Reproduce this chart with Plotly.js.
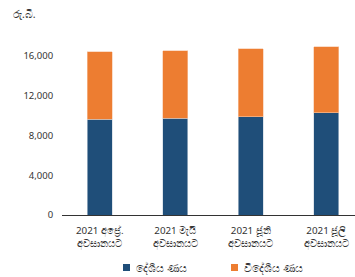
<!DOCTYPE html>
<html><head><meta charset="utf-8">
<script src="https://cdn.plot.ly/plotly-3.0.1.min.js"></script>
<style>body{margin:0}#c{width:355px;height:277px}</style>
</head><body><div id="c"></div>
<script>
const categories = ["2021 අප්‍රේ.<br>අවසානයට", "2021 මැයි<br>අවසානයට", "2021 ජූනි<br>අවසානයට", "2021 ජූලි<br>අවසානයට"];
const domesticDebt = [9650, 9750, 9900, 10300];
const foreignDebt = [6750, 6750, 6800, 6600];
const seriesNames = ["දේශීය ණය", "විදේශීය ණය"];
const seriesColors = ["#1F4E79", "#ED7D31"];
const yTicks = [0, 4000, 8000, 12000, 16000];
const yTickText = ["0", "4,000", "8,000", "12,000", "16,000"];
const idx = categories.map((_, i) => i);

const font = {family: "Noto Sans, DejaVu Sans, sans-serif", size: 9.5, color: "#333"};
const data = [
  {type: "bar", x: idx, y: domesticDebt, name: seriesNames[0], marker: {color: seriesColors[0], line: {color: "#c9d3de", width: 0.6}}, width: 0.33},
  {type: "bar", x: idx, y: foreignDebt, name: seriesNames[1], marker: {color: seriesColors[1], line: {color: "#f6c7a6", width: 0.6}}, width: 0.33}
];
// manual legend (small square markers)
const legX = [123, 231];
const shapes = legX.map((x, i) => ({type: "rect", xref: "paper", yref: "paper",
  x0: (x - 62) / 293, x1: (x + 7 - 62) / 293, y0: (215 - 271) / 179, y1: (215 - 264) / 179,
  fillcolor: seriesColors[i], line: {width: 0}}));
const legAnn = legX.map((x, i) => ({text: seriesNames[i], xref: "paper", yref: "paper",
  x: (x + 10.5 - 62) / 293, y: (215 - 267.5) / 179, xanchor: "left", yanchor: "middle", showarrow: false, font: {size: 10.5}}));

const layout = {
  width: 355, height: 277, barmode: "stack",
  margin: {l: 62, r: 0, t: 36, b: 62},
  paper_bgcolor: "#fff", plot_bgcolor: "#fff",
  font: font,
  showlegend: false,
  xaxis: {range: [-0.5, 3.38], tickvals: idx, ticktext: categories, showline: true, linecolor: "#333", linewidth: 1, ticks: "outside", ticklen: 6, tickcolor: "rgba(0,0,0,0)", showgrid: false, zeroline: false, tickfont: {size: 9.8}, automargin: false},
  yaxis: {range: [0, 18000], tickvals: yTicks, ticktext: yTickText, showgrid: false, zeroline: false, showline: false, ticks: "outside", ticklen: 6, tickcolor: "rgba(0,0,0,0)", tickfont: {size: 9.5}, automargin: false},
  shapes: shapes,
  annotations: [{text: "රු.බි.", xref: "paper", yref: "paper", x: 0, xshift: -51, y: 1, yshift: 22, xanchor: "left", yanchor: "middle", showarrow: false, font: {size: 10.5}}].concat(legAnn)
};
Plotly.newPlot("c", data, layout, {displayModeBar: false, staticPlot: true});
</script></body></html>
